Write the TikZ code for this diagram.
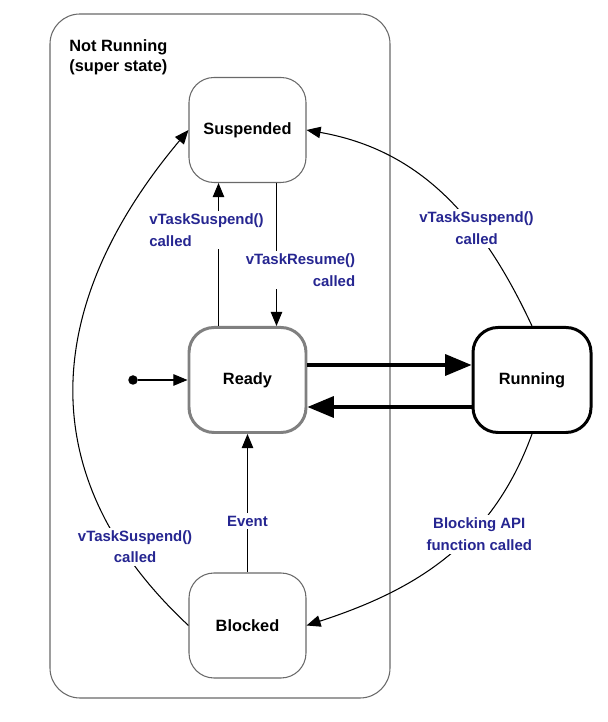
\documentclass[tikz,border=0pt]{standalone}
\usepackage{fontspec}
\setmainfont{Liberation Sans}
\usetikzlibrary{arrows.meta,positioning}
\definecolor{lblblue}{RGB}{38,38,145}
\definecolor{edgegray}{RGB}{105,105,105}
\definecolor{readygray}{RGB}{128,128,128}

\begin{document}
\begin{tikzpicture}[>={Triangle[length=8pt,width=6.5pt]},
  state/.style={draw=edgegray,line width=0.6pt,rounded corners=0.5cm,minimum width=2.34cm,minimum height=2.1cm,fill=white,font=\fontsize{9.3}{11}\selectfont\bfseries},
  lbl/.style={fill=white,text=lblblue,inner sep=1.5pt,font=\fontsize{8.5}{12.5}\selectfont\bfseries},
  trans/.style={->,line width=0.6pt},
  bigtrans/.style={-{Triangle[length=15pt,width=12pt]},line width=1.8pt}]
\useasboundingbox (0,0) rectangle (12.14,14.44);
% super state
\draw[edgegray,line width=0.6pt,rounded corners=0.6cm] (1.0,0.48) rectangle (7.8,14.16);
\node[anchor=north west,align=left,inner sep=0pt,font=\fontsize{9.3}{11.5}\selectfont\bfseries] (title) at (1.38,13.66) {Not Running\\(super state)};
% states
\node[state] (susp) at (4.95,11.84) {Suspended};
\node[state,draw=readygray,line width=1.7pt] (ready) at (4.95,6.84) {Ready};
\node[state,draw=black,line width=1.7pt,minimum width=2.36cm] (run) at (10.64,6.84) {Running};
\node[state] (blk) at (4.95,1.93) {Blocked};
\node[circle,fill=black,inner sep=0pt,minimum size=0.19cm] (init) at (2.66,6.84) {};
% transitions
\draw[trans] (init) -- (ready);
\draw[bigtrans] ([yshift=0.3cm]ready.east) -- ([yshift=0.3cm]run.west);
\draw[bigtrans] ([yshift=-0.54cm]run.west) -- ([yshift=-0.54cm]ready.east);
\draw[trans] ([xshift=-0.58cm]ready.north) -- node[lbl,pos=0.67,xshift=-0.24cm,align=left] {vTaskSuspend()\\called} ([xshift=-0.58cm]susp.south);
\draw[trans] ([xshift=0.58cm]susp.south) -- node[lbl,pos=0.61,xshift=0.48cm,align=right] {vTaskResume()\\called} ([xshift=0.58cm]ready.north);
\draw[trans] (blk) -- node[lbl,pos=0.37] {Event} (ready);
\draw[trans] (run.north) to[out=115,in=-10] node[lbl,pos=0.35,xshift=0.05cm,align=center] {vTaskSuspend()\\called} (susp.east);
\draw[trans] (run.south) to[out=-110,in=18] node[lbl,pos=0.37,xshift=0.12cm,yshift=-0.05cm,align=center] {Blocking API\\function called} (blk.east);
\draw[trans] (blk.west) to[out=137,in=-130,looseness=1.15] node[lbl,pos=0.18,xshift=0.34cm,yshift=-0.1cm,align=center] {vTaskSuspend()\\called} (susp.west);
\end{tikzpicture}
\end{document}
